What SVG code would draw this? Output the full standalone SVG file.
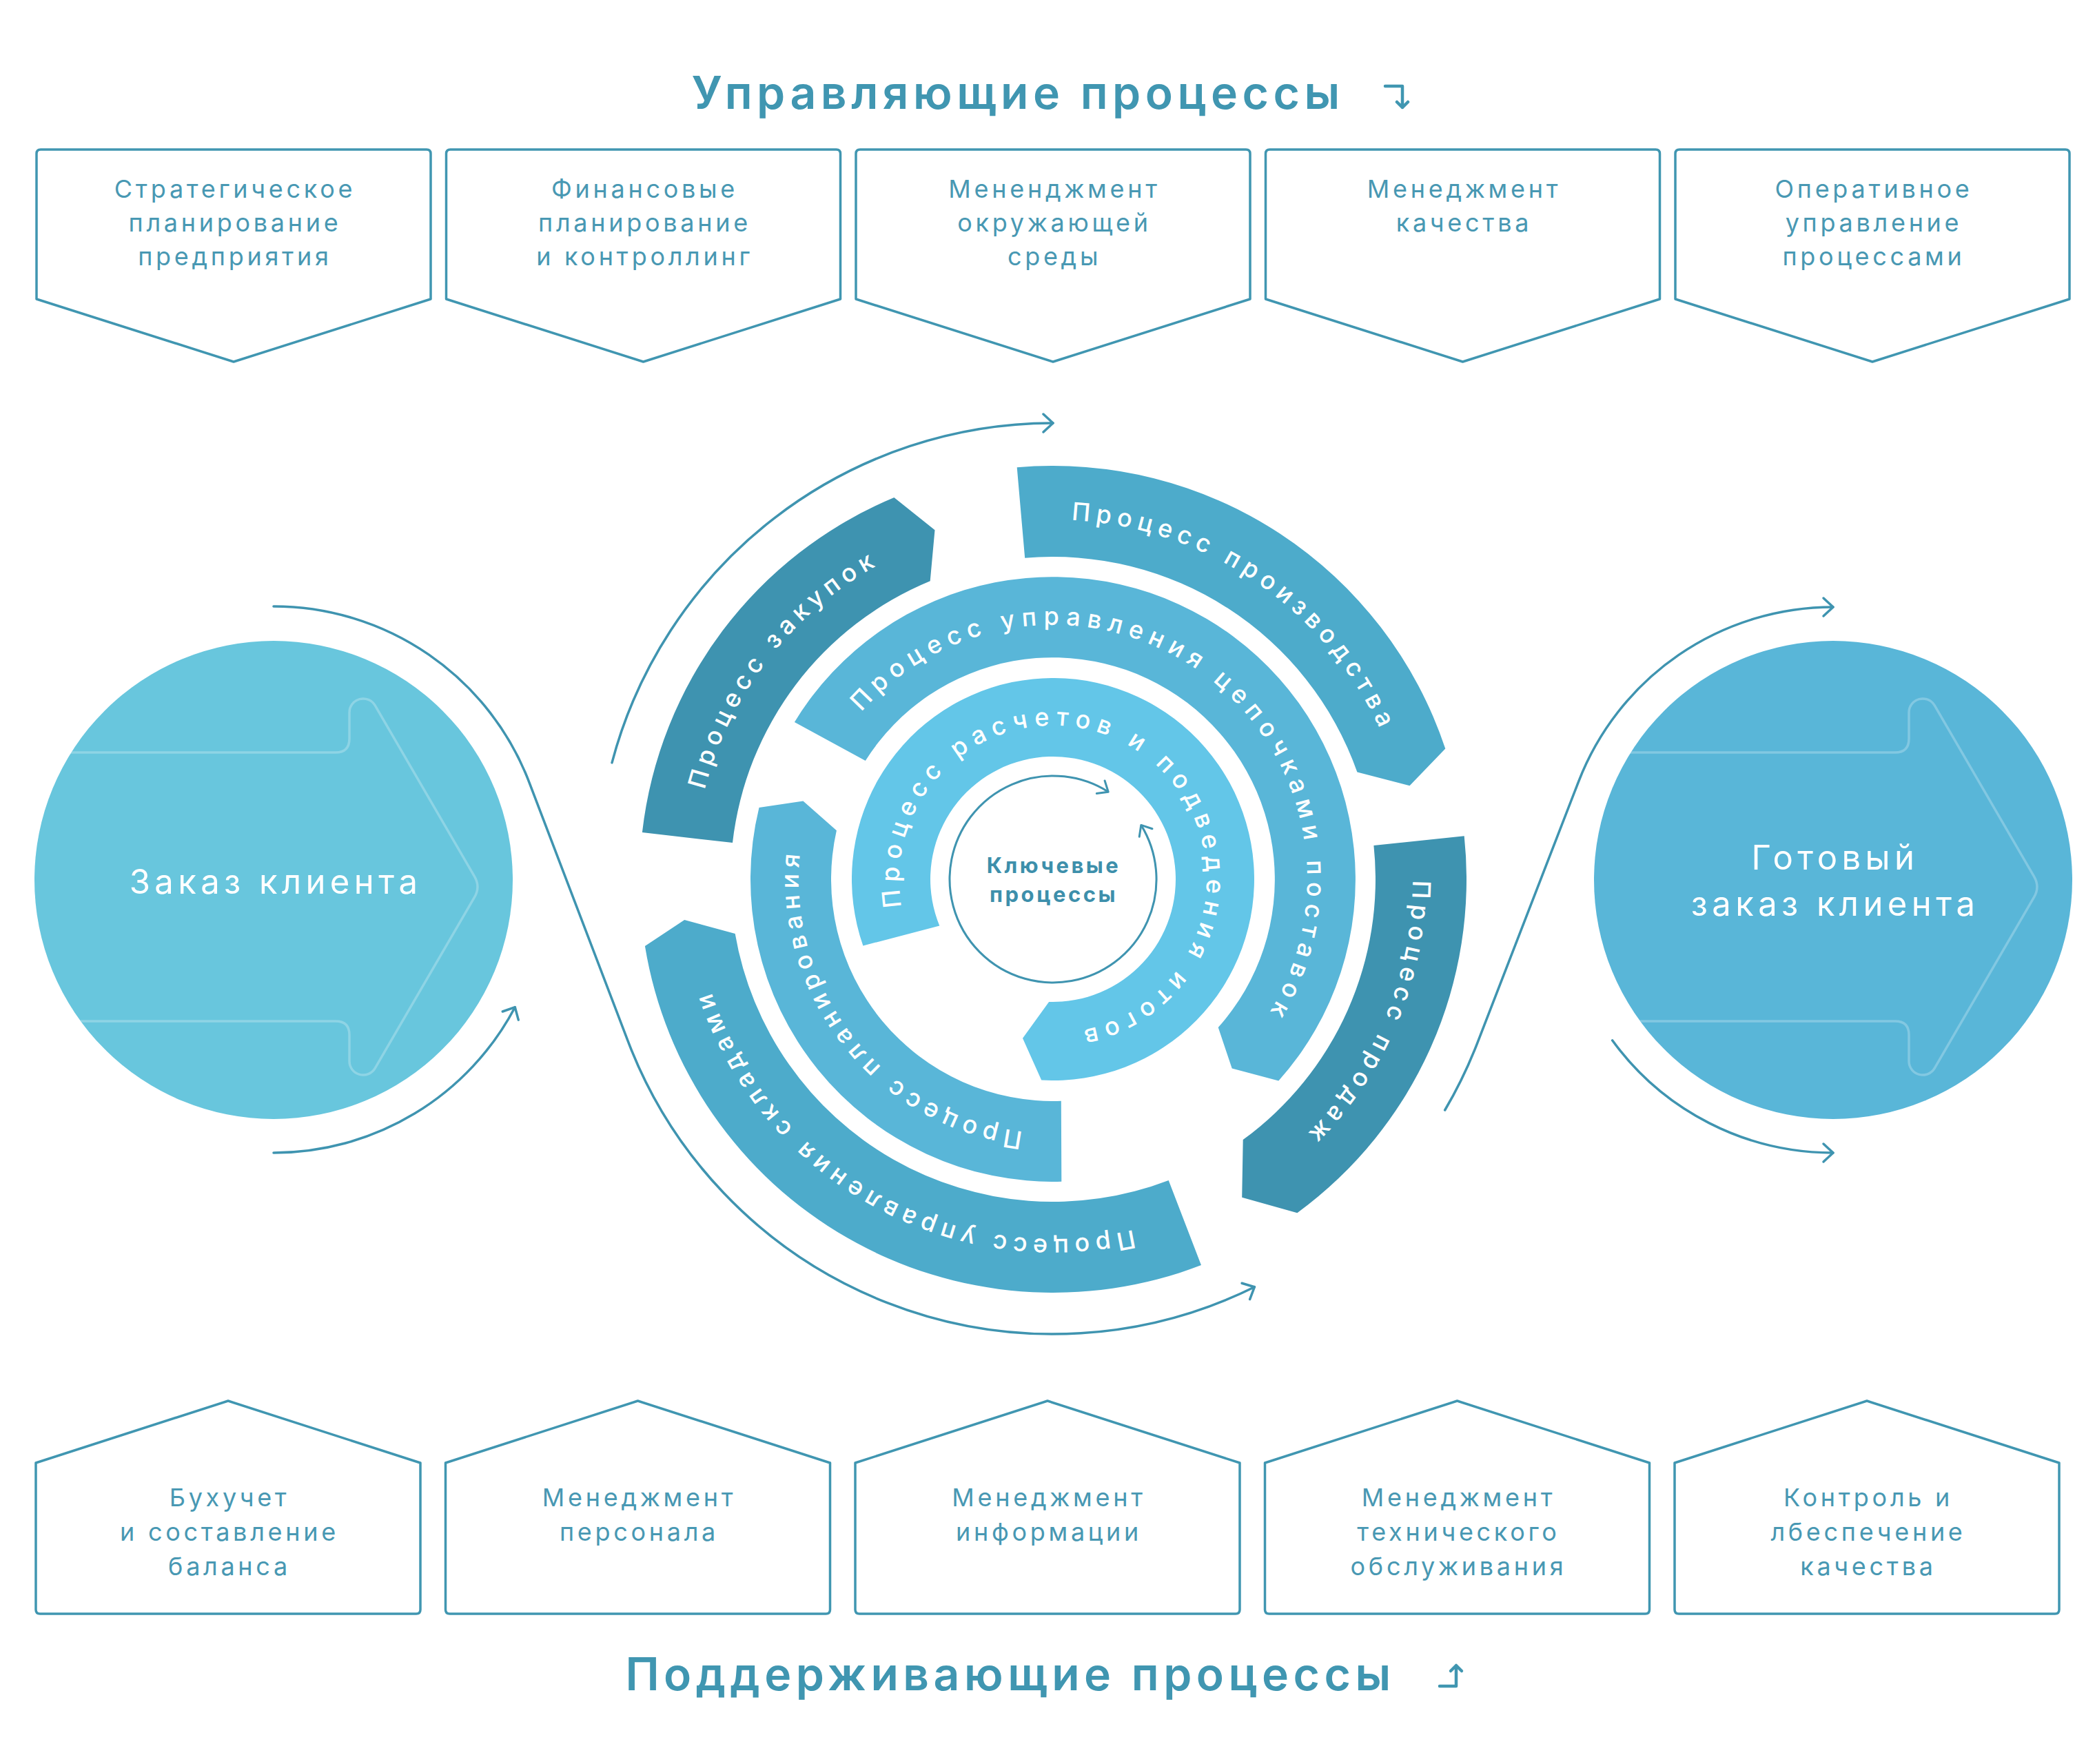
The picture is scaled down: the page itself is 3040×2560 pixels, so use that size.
<svg xmlns="http://www.w3.org/2000/svg" width="3040" height="2560" viewBox="0 0 3040 2560">
<style>
.box{fill:#fff;stroke:#4096b1;stroke-width:3.5;stroke-linejoin:round}
.bt{font-family:Inter,"Noto Sans",sans-serif;font-size:36px;letter-spacing:4.7px;fill:#4898b3;text-anchor:middle}
.title{font-family:Inter,"Noto Sans",sans-serif;font-size:66px;font-weight:600;letter-spacing:6.5px;fill:#4096b1;text-anchor:middle}
.tarr{fill:none;stroke:#4096b1;stroke-width:4.5;stroke-linecap:round;stroke-linejoin:round}
.conn{fill:none;stroke:#3f94b0;stroke-width:3.5;stroke-linecap:round}
.rt{font-family:Inter,"Noto Sans",sans-serif;font-size:36px;font-weight:500;letter-spacing:8px;fill:#fff}
.rtm{letter-spacing:9.4px}
.rti{letter-spacing:9.5px}
.ct{font-family:Inter,"Noto Sans",sans-serif;font-size:49px;letter-spacing:6.4px;fill:#fff;text-anchor:middle}
.kt{font-family:Inter,"Noto Sans",sans-serif;font-size:31px;font-weight:700;letter-spacing:3.5px;fill:#3d8fab;text-anchor:middle}
.inarr{fill:none;stroke:#fff;stroke-opacity:0.25;stroke-width:3.5;stroke-linejoin:round}
.dark{fill:#3e93b0}
.outer{fill:#4dabcb}
.mid{fill:#59b6d8}
.inner{fill:#63c6e8}
</style>
<defs>
<marker id="arr" markerUnits="userSpaceOnUse" markerWidth="40" markerHeight="40" viewBox="-20 -20 40 40" refX="0" refY="0" orient="auto-start-reverse">
<path d="M-14,-13 L0,0 L-14,13" fill="none" stroke="#3f94b0" stroke-width="3.5" stroke-linecap="round" stroke-linejoin="round"/>
</marker>
<marker id="arrs" markerUnits="userSpaceOnUse" markerWidth="40" markerHeight="40" viewBox="-20 -20 40 40" refX="0" refY="0" orient="auto-start-reverse">
<path d="M-13,-11 L0,0 L-13,11" fill="none" stroke="#3f94b0" stroke-width="3" stroke-linecap="round" stroke-linejoin="round"/>
</marker>
<clipPath id="clipL"><circle cx="397" cy="1277" r="347"/></clipPath>
<clipPath id="clipR"><circle cx="2660" cy="1277" r="347"/></clipPath>
<path id="tpA" d="M1878.6,1662.7 A522,522 0 1 1 1989.8,1519.5"/>
<path id="tpB" d="M1162.1,1648.3 A522,522 0 1 1 1311.5,1751"/>
<path id="tpC" d="M1090.2,991.7 A522,522 0 1 1 1019.4,1158.6"/>
<path id="tpD" d="M1862.1,875 A522,522 0 1 1 1704.8,784.9"/>
<path id="tpE" d="M1258.1,1527.7 A369,369 0 1 1 1360.5,1604.8"/>
<path id="tpF" d="M1853,1101.3 A369,369 0 1 1 1774,1000.9"/>
<path id="tpG" d="M1369.2,1432.6 A223,223 0 1 1 1432.3,1477.4"/>
<path id="arrowShape" d="M0,1092 L487,1092 Q507,1092 507,1072 L507,1034 A20,20 0 0 1 544.3,1023.9 L688.6,1272.1 Q697.3,1287 688.6,1301.9 L544.3,1550.1 A20,20 0 0 1 507,1540 L507,1502 Q507,1482 487,1482 L0,1482"/>
</defs>
<rect width="3040" height="2560" fill="#fff"/>

<g id="title-top">
<text class="title" x="1477" y="158">Управляющие процессы</text>
<path class="tarr" d="M2010,125 L2035,125 L2035,156 M2027,148 L2035,156 L2043,148"/>
</g>
<g id="title-bottom">
<text class="title" x="1466" y="2453">Поддерживающие процессы</text>
<path class="tarr" d="M2089,2447 L2113,2447 L2113,2417 M2105,2425 L2113,2417 L2121,2425"/>
</g>

<g id="top-box-1">
<path class="box" d="M53,434 L53,223 Q53,217 59,217 L619,217 Q625,217 625,223 L625,434 L339,525 Z"/>
<text class="bt" x="341" y="287">Стратегическое</text>
<text class="bt" x="341" y="336">планирование</text>
<text class="bt" x="341" y="385">предприятия</text>
</g>
<g id="top-box-2">
<path class="box" d="M647.5,434 L647.5,223 Q647.5,217 653.5,217 L1213.5,217 Q1219.5,217 1219.5,223 L1219.5,434 L933.5,525 Z"/>
<text class="bt" x="935.5" y="287">Финансовые</text>
<text class="bt" x="935.5" y="336">планирование</text>
<text class="bt" x="935.5" y="385">и контроллинг</text>
</g>
<g id="top-box-3">
<path class="box" d="M1242,434 L1242,223 Q1242,217 1248,217 L1808,217 Q1814,217 1814,223 L1814,434 L1528,525 Z"/>
<text class="bt" x="1530" y="287">Мененджмент</text>
<text class="bt" x="1530" y="336">окружающей</text>
<text class="bt" x="1530" y="385">среды</text>
</g>
<g id="top-box-4">
<path class="box" d="M1836.5,434 L1836.5,223 Q1836.5,217 1842.5,217 L2402.5,217 Q2408.5,217 2408.5,223 L2408.5,434 L2122.5,525 Z"/>
<text class="bt" x="2124.5" y="287">Менеджмент</text>
<text class="bt" x="2124.5" y="336">качества</text>
</g>
<g id="top-box-5">
<path class="box" d="M2431,434 L2431,223 Q2431,217 2437,217 L2997,217 Q3003,217 3003,223 L3003,434 L2717,525 Z"/>
<text class="bt" x="2719" y="287">Оперативное</text>
<text class="bt" x="2719" y="336">управление</text>
<text class="bt" x="2719" y="385">процессами</text>
</g>

<g id="bottom-box-1">
<path class="box" d="M52,2123 L331,2033 L610,2123 L610,2336 Q610,2342 604,2342 L58,2342 Q52,2342 52,2336 Z"/>
<text class="bt" x="333" y="2186">Бухучет</text>
<text class="bt" x="333" y="2236">и составление</text>
<text class="bt" x="333" y="2286">баланса</text>
</g>
<g id="bottom-box-2">
<path class="box" d="M646.5,2123 L925.5,2033 L1204.5,2123 L1204.5,2336 Q1204.5,2342 1198.5,2342 L652.5,2342 Q646.5,2342 646.5,2336 Z"/>
<text class="bt" x="927.5" y="2186">Менеджмент</text>
<text class="bt" x="927.5" y="2236">персонала</text>
</g>
<g id="bottom-box-3">
<path class="box" d="M1241,2123 L1520,2033 L1799,2123 L1799,2336 Q1799,2342 1793,2342 L1247,2342 Q1241,2342 1241,2336 Z"/>
<text class="bt" x="1522" y="2186">Менеджмент</text>
<text class="bt" x="1522" y="2236">информации</text>
</g>
<g id="bottom-box-4">
<path class="box" d="M1835.5,2123 L2114.5,2033 L2393.5,2123 L2393.5,2336 Q2393.5,2342 2387.5,2342 L1841.5,2342 Q1835.5,2342 1835.5,2336 Z"/>
<text class="bt" x="2116.5" y="2186">Менеджмент</text>
<text class="bt" x="2116.5" y="2236">технического</text>
<text class="bt" x="2116.5" y="2286">обслуживания</text>
</g>
<g id="bottom-box-5">
<path class="box" d="M2430,2123 L2709,2033 L2988,2123 L2988,2336 Q2988,2342 2982,2342 L2436,2342 Q2430,2342 2430,2336 Z"/>
<text class="bt" x="2711" y="2186">Контроль и</text>
<text class="bt" x="2711" y="2236">лбеспечение</text>
<text class="bt" x="2711" y="2286">качества</text>
</g>

<g id="node-order">
<circle cx="397" cy="1277" r="347" fill="#68c6dd"/>
<g clip-path="url(#clipL)"><use href="#arrowShape" class="inarr"/></g>
<text class="ct" x="400" y="1297">Заказ клиента</text>
</g>
<g id="node-ready">
<circle cx="2660" cy="1277" r="347" fill="#59b6d8"/>
<g clip-path="url(#clipR)"><use href="#arrowShape" class="inarr" transform="translate(2263,0)"/></g>
<text class="ct" x="2663" y="1262">Готовый</text>
<text class="ct" x="2663" y="1329">заказ клиента</text>
</g>

<g id="seg-zakupok">
<path class="dark" d="M931.9,1208.1 A600,600 0 0 1 1297.4,722.1 L1356.5,769.2 L1349.7,843.3 A468,468 0 0 0 1063,1223 Z"/>
<text class="rt"><textPath href="#tpA" startOffset="50%" text-anchor="middle">Процесс закупок</textPath></text>
</g>
<g id="seg-proizvodstvo">
<path class="outer" d="M1475.7,678.3 A600,600 0 0 1 2097.3,1086.6 L2045.5,1140.2 L1969.4,1120.5 A468,468 0 0 0 1487.2,809.8 Z"/>
<text class="rt"><textPath href="#tpB" startOffset="50%" text-anchor="middle">Процесс производства</textPath></text>
</g>
<g id="seg-prodazh">
<path class="dark" d="M2124.7,1213.3 A600,600 0 0 1 1882.4,1760.2 L1802.2,1737.7 L1803.7,1654.1 A468,468 0 0 0 1993.4,1227.1 Z"/>
<text class="rt"><textPath href="#tpC" startOffset="50%" text-anchor="middle">Процесс продаж</textPath></text>
</g>
<g id="seg-sklady">
<path class="outer" d="M1743,1836.1 A600,600 0 0 1 935.9,1373 L993.2,1335 L1066.7,1354.9 A468,468 0 0 0 1695.7,1712.9 Z"/>
<text class="rt"><textPath href="#tpD" startOffset="50%" text-anchor="middle">Процесс управления складами</textPath></text>
</g>
<g id="seg-cepochki">
<path class="mid" d="M1152.9,1047.9 A439,439 0 1 1 1855.3,1568.6 L1787.7,1550.6 L1767.7,1491 A322,322 0 1 0 1255.8,1103.9 Z"/>
<text class="rt rtm"><textPath href="#tpE" startOffset="50%" text-anchor="middle">Процесс управления цепочками поставок</textPath></text>
</g>
<g id="seg-planirovanie">
<path class="mid" d="M1540.3,1714.8 A439,439 0 0 1 1101.5,1172 L1165.4,1162.4 L1213.9,1205.2 A322,322 0 0 0 1539.8,1597.8 Z"/>
<text class="rt"><textPath href="#tpF" startOffset="50%" text-anchor="middle">Процесс планирования</textPath></text>
</g>
<g id="seg-raschety">
<path class="inner" d="M1252.4,1372.5 A292,292 0 1 1 1511.2,1567.5 L1484,1506.8 L1522.1,1453.9 A178,178 0 1 0 1363.3,1343.5 Z"/>
<text class="rt rti"><textPath href="#tpG" startOffset="50%" text-anchor="middle">Процесс расчетов и подведения итогов</textPath></text>
</g>
<g id="node-key">
<path d="M1655.8,1197.4 A150,150 0 1 1 1608.2,1149.2" fill="none" stroke="#3f94b0" stroke-width="3" marker-start="url(#arrs)" marker-end="url(#arrs)"/>
<text class="kt" x="1529" y="1267">Ключевые</text>
<text class="kt" x="1529" y="1309">процессы</text>
</g>

<g id="connectors">
<path class="conn" d="M888,1106.9 A662,662 0 0 1 1528,614" marker-end="url(#arr)"/>
<path class="conn" d="M397,880 A397,397 0 0 1 768.1,1135.8 L911.1,1510.7 A660,660 0 0 0 1820.4,1867.7" marker-end="url(#arr)"/>
<path class="conn" d="M2096.7,1611 A660,660 0 0 0 2143.7,1513.8 L2290.6,1134.3 A396,396 0 0 1 2660,881" marker-end="url(#arr)"/>
<path class="conn" d="M397,1673 A396,396 0 0 0 747.3,1461.7" marker-end="url(#arr)"/>
<path class="conn" d="M2339.6,1509.8 A396,396 0 0 0 2660,1673" marker-end="url(#arr)"/>
</g>
</svg>
